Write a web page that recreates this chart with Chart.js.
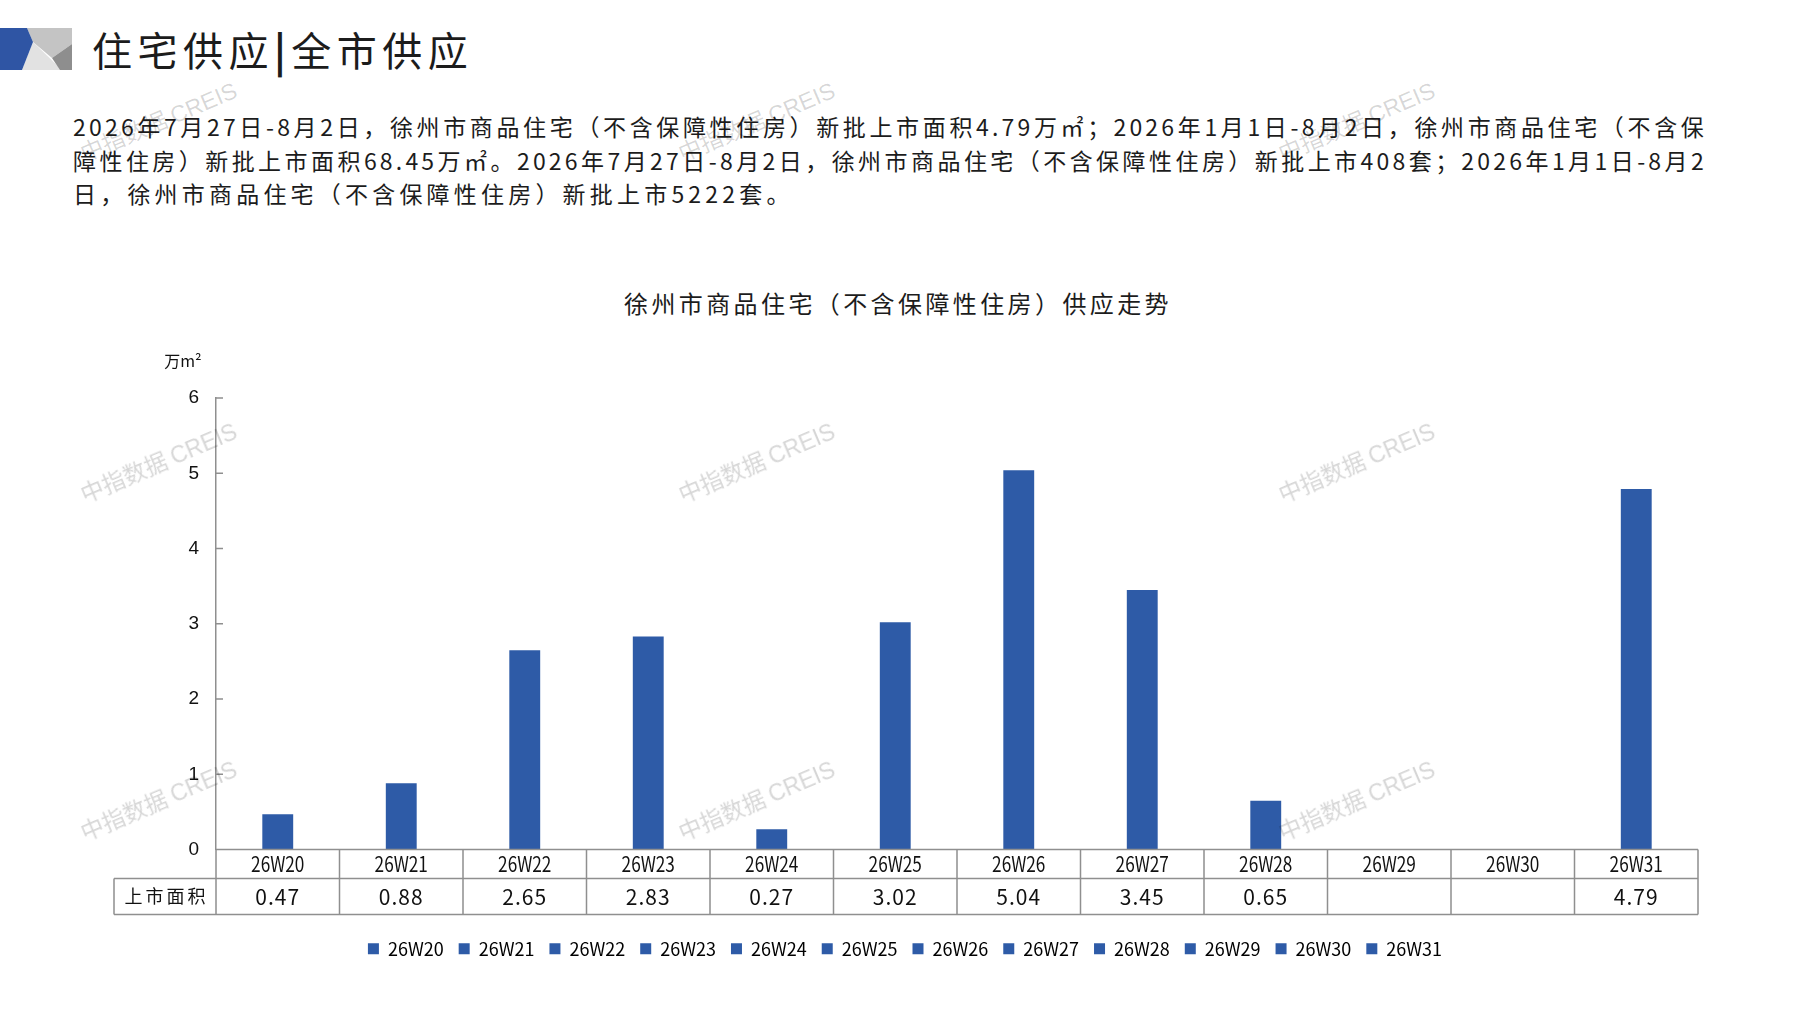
<!DOCTYPE html>
<html lang="zh-CN">
<head>
<meta charset="utf-8">
<title>徐州市商品住宅供应走势</title>
<script src="https://cdn.jsdelivr.net/npm/chart.js@4.4.1/dist/chart.umd.min.js"></script>
<style>
  html, body { margin: 0; padding: 0; background: #fff; }
  body { width: 1797px; height: 1010px; position: relative; overflow: hidden;
         font-family: "Noto Sans CJK SC", sans-serif; color: #1c1c1c; }
  .logo { position: absolute; left: 0; top: 28px; }
  .head { position: absolute; left: 92px; top: 20px; font-size: 40px; line-height: 58px; letter-spacing: 5.5px; }
  .head b { font-weight: 700; }
  .para { position: absolute; left: 73px; top: 110px; width: 1634px; font-size: 23px; line-height: 33.5px; letter-spacing: 3.2px; }
  .para .j { text-align: justify; text-align-last: justify; }
  .para .last { letter-spacing: 4.2px; }
  .ctitle { position: absolute; left: 548px; width: 700px; top: 287px; text-align: center;
            font-size: 24px; line-height: 32px; letter-spacing: 3.4px; }
  #wrap { position: absolute; left: 0; top: 250px; width: 1797px; height: 760px; }
  .wm { position: absolute; transform: translate(-50%, -50%) rotate(-23deg); white-space: nowrap;
        font-size: 23px; color: rgba(0, 0, 0, 0.16); pointer-events: none; z-index: 5; }
  .wm span { font-family: "Liberation Sans", Arial, sans-serif; }
</style>
</head>
<body>

<svg class="logo" width="72" height="42" viewBox="0 0 72 42">
  <polygon points="27,0 72,0 72,16 52,30 33,14" fill="#c4c4c4"/>
  <polygon points="33,14 62,42 22,42" fill="#e2e2e2"/>
  <polygon points="72,16 72,42 60,42 52,30" fill="#8e8e8e"/>
  <polygon points="0,0 27,0 33,14 22,42 0,42" fill="#2f55a4"/>
</svg>
<div class="head">住宅供应<b>|</b>全市供应</div>

<div class="para">
  <div class="j">2026年7月27日-8月2日，徐州市商品住宅（不含保障性住房）新批上市面积4.79万㎡；2026年1月1日-8月2日，徐州市商品住宅（不含保</div>
  <div class="j">障性住房）新批上市面积68.45万㎡。2026年7月27日-8月2日，徐州市商品住宅（不含保障性住房）新批上市408套；2026年1月1日-8月2</div>
  <div class="last">日，徐州市商品住宅（不含保障性住房）新批上市5222套。</div>
</div>

<div class="ctitle">徐州市商品住宅（不含保障性住房）供应走势</div>

<div id="wrap"><canvas id="supply-chart" width="1797" height="760"></canvas></div>

<div class="wm" style="left:158px;top:120px">中指数据 <span>CREIS</span></div>
<div class="wm" style="left:756px;top:120px">中指数据 <span>CREIS</span></div>
<div class="wm" style="left:1356px;top:120px">中指数据 <span>CREIS</span></div>
<div class="wm" style="left:158px;top:461px">中指数据 <span>CREIS</span></div>
<div class="wm" style="left:756px;top:461px">中指数据 <span>CREIS</span></div>
<div class="wm" style="left:1356px;top:461px">中指数据 <span>CREIS</span></div>
<div class="wm" style="left:158px;top:799px">中指数据 <span>CREIS</span></div>
<div class="wm" style="left:756px;top:799px">中指数据 <span>CREIS</span></div>
<div class="wm" style="left:1356px;top:799px">中指数据 <span>CREIS</span></div>

<script>
// -------------- data --------------
const weeks = ['26W20', '26W21', '26W22', '26W23', '26W24', '26W25',
    '26W26', '26W27', '26W28', '26W29', '26W30', '26W31'];
// 上市面积 (万㎡), no supply in W29 / W30
const supplyArea = [0.47, 0.88, 2.65, 2.83, 0.27, 3.02, 5.04, 3.45, 0.65, null, null, 4.79];
const yTicks = [0, 1, 2, 3, 4, 5, 6];
const rowLabel = '上市面积';
const unitLabel = '万m²';

const barColor = '#2e5ba7';
const lineColor = '#8f8f8f';
const cjkFont = '"Noto Sans CJK SC", sans-serif';

// -------------- table under the x axis --------------
const headRow = 29;
const valueRow = 36;

// narrow-looking text: squeeze horizontally around the centre
function narrowText(ctx, text, cx, cy, squeeze) {
    ctx.save();
    ctx.translate(cx, cy);
    ctx.scale(squeeze, 1);
    ctx.fillText(text, 0, 0);
    ctx.restore();
}

const tablePlugin = {
    id: 'dataTable',
    afterDraw(chart) {
        const { ctx, chartArea } = chart;
        const x = chart.scales.x;
        const y = chart.scales.y;
        const top = chartArea.bottom;
        const mid = top + headRow;
        const bot = mid + valueRow;
        const left = chartArea.left;
        const right = chartArea.right;
        const labelLeft = left - 102;
        const half = (x.getPixelForValue(1) - x.getPixelForValue(0)) / 2;

        ctx.save();
        ctx.strokeStyle = lineColor;
        ctx.lineWidth = 1.5;
        ctx.beginPath();
        ctx.moveTo(left, top); ctx.lineTo(right, top);
        ctx.moveTo(labelLeft, mid); ctx.lineTo(right, mid);
        ctx.moveTo(labelLeft, bot); ctx.lineTo(right, bot);
        ctx.moveTo(labelLeft, mid); ctx.lineTo(labelLeft, bot);
        weeks.forEach((w, i) => {
            const xb = x.getPixelForValue(i) - half;
            ctx.moveTo(xb, top); ctx.lineTo(xb, bot);
        });
        ctx.moveTo(right, top); ctx.lineTo(right, bot);
        // small tick marks on the inside of the y axis
        y.ticks.forEach((t, i) => {
            const py = y.getPixelForTick(i);
            ctx.moveTo(left, py); ctx.lineTo(left + 7, py);
        });
        ctx.stroke();

        ctx.fillStyle = '#111';
        ctx.textAlign = 'center';
        ctx.textBaseline = 'middle';
        weeks.forEach((w, i) => {
            const cx = x.getPixelForValue(i);
            ctx.font = '21px ' + cjkFont;
            narrowText(ctx, w, cx, top + headRow / 2, 0.82);
            const v = supplyArea[i];
            if (v != null) {
                ctx.letterSpacing = '1px';
                narrowText(ctx, v.toFixed(2), cx, mid + valueRow / 2, 1);
                ctx.letterSpacing = '0px';
            }
        });

        ctx.font = '18px ' + cjkFont;
        ctx.letterSpacing = '3px';
        ctx.fillText(rowLabel, (labelLeft + left) / 2 + 1.5, mid + valueRow / 2);
        ctx.letterSpacing = '0px';

        // unit above the y axis
        ctx.font = '16px ' + cjkFont;
        ctx.fillText(unitLabel, left - 33, chartArea.top - 37);
        ctx.restore();
    }
};

// -------------- bar chart --------------
const supplyCanvas = document.getElementById('supply-chart');

const supplyData = {
    labels: weeks,
    datasets: [{
        label: rowLabel,
        data: supplyArea,
        backgroundColor: barColor,
        borderWidth: 0,
        categoryPercentage: 1,
        barPercentage: 0.25
    }]
};

const supplyOptions = {
    responsive: false,
    animation: false,
    layout: {
        padding: { top: 148, left: 112, right: 99, bottom: 42.2 }
    },
    scales: {
        x: {
            grid: { display: false },
            border: { display: false },
            ticks: { display: false },
            afterFit: scale => { scale.height = 75.2; }
        },
        y: {
            min: yTicks[0],
            max: yTicks[yTicks.length - 1],
            grid: { display: false, drawTicks: false },
            border: { display: true, color: lineColor, width: 1.5 },
            ticks: {
                stepSize: yTicks[1] - yTicks[0],
                padding: 17,
                color: '#111',
                font: { family: '"Liberation Sans", Arial, sans-serif', size: 19 }
            },
            afterFit: scale => { scale.width = 104; }
        }
    },
    plugins: {
        tooltip: { enabled: false },
        legend: {
            position: 'bottom',
            onClick: () => {},
            labels: {
                boxWidth: 11,
                boxHeight: 11,
                padding: 15,
                color: '#111',
                font: { family: cjkFont, size: 18 },
                // one legend entry per week, like the original
                generateLabels: () => weeks.map((w, i) => ({
                    text: w,
                    fillStyle: barColor,
                    strokeStyle: barColor,
                    lineWidth: 0,
                    hidden: false,
                    index: i
                }))
            }
        }
    }
};

const supplyChart = new Chart(supplyCanvas, {
    type: 'bar',
    data: supplyData,
    options: supplyOptions,
    plugins: [tablePlugin]
});
</script>
</body>
</html>
